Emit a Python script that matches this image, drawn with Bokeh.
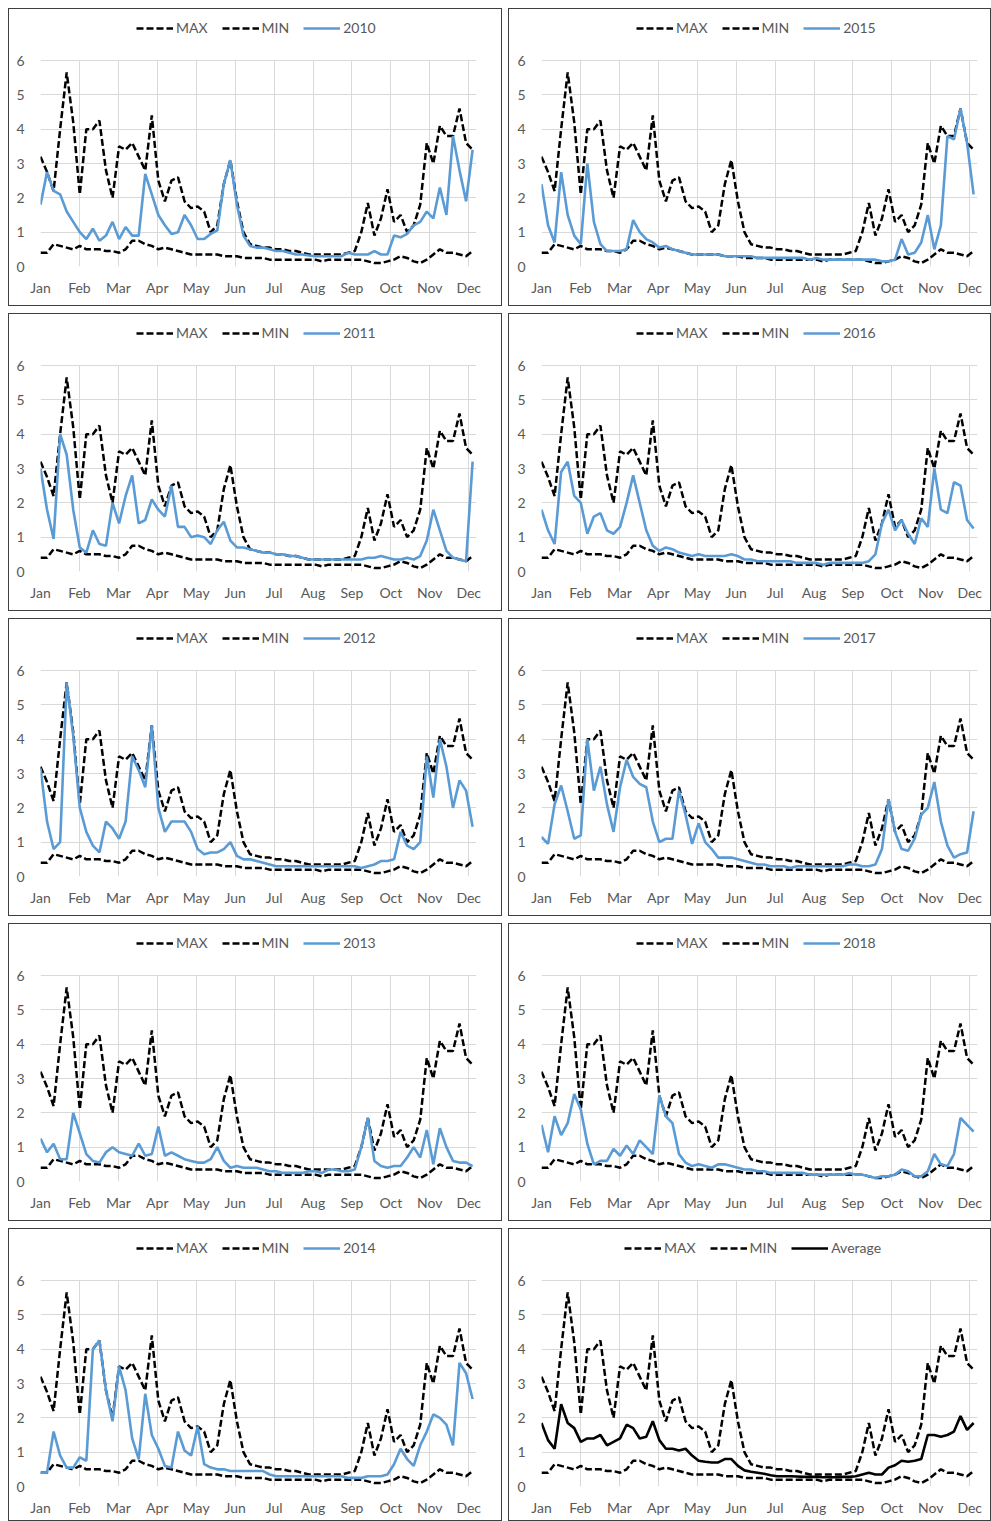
import numpy as np
from bokeh.plotting import figure
from bokeh.layouts import column, row
from bokeh.models import Range1d, FixedTicker, Legend, LegendItem
from bokeh.embed import file_html
from bokeh.resources import INLINE

# Month labels on the time axis (one tick per month start)
months = ["Jan", "Feb", "Mar", "Apr", "May", "Jun",
          "Jul", "Aug", "Sep", "Oct", "Nov", "Dec"]
y_ticks = [0, 1, 2, 3, 4, 5, 6]

# Envelope of all years (upper and lower bound), ~5-day steps from 1 Jan
max_vals = [3.2, 2.75, 2.2, 4.0, 5.65, 4.2, 2.1, 4.0, 4.0, 4.25,
            2.8, 2.0, 3.5, 3.4, 3.6, 3.2, 2.8, 4.4, 2.5, 1.9,
            2.5, 2.6, 1.9, 1.7, 1.75, 1.6, 1.0, 1.2, 2.4, 3.1,
            1.9, 1.0, 0.65, 0.6, 0.55, 0.55, 0.5, 0.5, 0.45, 0.45,
            0.4, 0.35, 0.35, 0.35, 0.35, 0.35, 0.35, 0.4, 0.45, 1.0,
            1.85, 0.9, 1.4, 2.25, 1.3, 1.5, 1.0, 1.2, 1.8, 3.6,
            3.0, 4.1, 3.8, 3.8, 4.6, 3.6, 3.4]
min_vals = [0.4, 0.4, 0.65, 0.6, 0.55, 0.5, 0.6, 0.5, 0.5, 0.5,
            0.45, 0.45, 0.4, 0.5, 0.75, 0.75, 0.65, 0.6, 0.5, 0.55,
            0.5, 0.45, 0.4, 0.35, 0.35, 0.35, 0.35, 0.35, 0.3, 0.3,
            0.3, 0.25, 0.25, 0.25, 0.25, 0.2, 0.2, 0.2, 0.2, 0.2,
            0.2, 0.2, 0.2, 0.15, 0.2, 0.2, 0.2, 0.2, 0.2, 0.2,
            0.15, 0.1, 0.1, 0.15, 0.2, 0.3, 0.25, 0.15, 0.1, 0.2,
            0.35, 0.5, 0.4, 0.4, 0.35, 0.3, 0.45]

y2010 = [1.8, 2.75, 2.2, 2.1, 1.6, 1.3, 1.0, 0.8, 1.1, 0.75,
         0.9, 1.3, 0.8, 1.15, 0.9, 0.9, 2.7, 2.1, 1.5, 1.2,
         0.95, 1.0, 1.5, 1.2, 0.8, 0.8, 0.95, 1.05, 2.4, 3.1,
         1.8, 0.9, 0.6, 0.55, 0.55, 0.5, 0.45, 0.45, 0.4, 0.35,
         0.35, 0.32, 0.3, 0.3, 0.3, 0.3, 0.3, 0.4, 0.35, 0.35,
         0.35, 0.45, 0.35, 0.35, 0.9, 0.85, 0.95, 1.2, 1.3, 1.6,
         1.4, 2.3, 1.5, 3.8, 2.8, 1.9, 3.4]
y2011 = [3.0, 1.8, 0.95, 4.0, 3.4, 1.8, 0.7, 0.55, 1.2, 0.8,
         0.75, 2.0, 1.4, 2.2, 2.8, 1.4, 1.5, 2.1, 1.8, 1.6,
         2.5, 1.3, 1.3, 1.0, 1.05, 1.0, 0.8, 1.2, 1.45, 0.9,
         0.7, 0.7, 0.65, 0.6, 0.55, 0.55, 0.5, 0.5, 0.45, 0.45,
         0.4, 0.35, 0.35, 0.35, 0.35, 0.35, 0.35, 0.35, 0.35, 0.35,
         0.4, 0.4, 0.45, 0.4, 0.35, 0.35, 0.4, 0.35, 0.45, 0.9,
         1.8, 1.2, 0.6, 0.4, 0.35, 0.3, 3.2]
y2012 = [3.15, 1.6, 0.8, 1.0, 5.65, 4.1, 2.0, 1.3, 0.9, 0.7,
         1.6, 1.4, 1.1, 1.6, 3.5, 3.1, 2.6, 4.4, 2.0, 1.3,
         1.6, 1.6, 1.6, 1.3, 0.8, 0.65, 0.7, 0.7, 0.8, 1.0,
         0.6, 0.5, 0.5, 0.45, 0.4, 0.35, 0.3, 0.3, 0.3, 0.3,
         0.3, 0.3, 0.3, 0.3, 0.3, 0.3, 0.3, 0.3, 0.3, 0.25,
         0.3, 0.35, 0.45, 0.45, 0.5, 1.3, 0.9, 0.8, 1.0, 3.5,
         2.3, 4.0, 3.2, 2.0, 2.8, 2.5, 1.45]
y2013 = [1.25, 0.85, 1.1, 0.65, 0.65, 2.0, 1.4, 0.8, 0.6, 0.55,
         0.85, 1.0, 0.85, 0.8, 0.75, 1.1, 0.75, 0.8, 1.6, 0.75,
         0.85, 0.75, 0.65, 0.6, 0.55, 0.55, 0.65, 1.0, 0.6, 0.4,
         0.45, 0.4, 0.4, 0.4, 0.35, 0.3, 0.3, 0.25, 0.25, 0.25,
         0.25, 0.3, 0.3, 0.25, 0.35, 0.35, 0.3, 0.3, 0.35, 1.0,
         1.85, 0.6, 0.45, 0.4, 0.45, 0.45, 0.7, 1.0, 0.7, 1.5,
         0.5, 1.55, 1.0, 0.6, 0.55, 0.55, 0.45]
y2014 = [0.4, 0.4, 1.6, 0.9, 0.55, 0.55, 0.85, 0.75, 4.0, 4.25,
         2.8, 1.9, 3.5, 2.8, 1.4, 0.8, 2.7, 1.5, 1.1, 0.6,
         0.55, 1.6, 1.05, 0.9, 1.75, 0.65, 0.55, 0.5, 0.5, 0.45,
         0.45, 0.45, 0.45, 0.45, 0.45, 0.35, 0.3, 0.3, 0.3, 0.3,
         0.3, 0.3, 0.3, 0.3, 0.3, 0.3, 0.3, 0.25, 0.25, 0.25,
         0.3, 0.3, 0.3, 0.35, 0.65, 1.1, 0.8, 0.6, 1.2, 1.6,
         2.1, 2.0, 1.8, 1.2, 3.6, 3.3, 2.55]
y2015 = [2.4, 1.2, 0.7, 2.75, 1.5, 0.9, 0.65, 3.0, 1.3, 0.65,
         0.45, 0.45, 0.45, 0.5, 1.35, 1.0, 0.8, 0.7, 0.55, 0.6,
         0.5, 0.45, 0.4, 0.35, 0.35, 0.35, 0.35, 0.35, 0.3, 0.3,
         0.3, 0.3, 0.3, 0.25, 0.25, 0.25, 0.25, 0.25, 0.25, 0.25,
         0.25, 0.2, 0.25, 0.2, 0.2, 0.2, 0.2, 0.2, 0.2, 0.2,
         0.2, 0.2, 0.15, 0.15, 0.2, 0.8, 0.35, 0.4, 0.7, 1.5,
         0.5, 1.2, 3.8, 3.7, 4.6, 3.6, 2.1]
y2016 = [1.8, 1.2, 0.8, 2.9, 3.2, 2.2, 2.0, 1.1, 1.6, 1.7,
         1.2, 1.1, 1.3, 2.0, 2.8, 2.0, 1.2, 0.75, 0.6, 0.7,
         0.65, 0.55, 0.5, 0.45, 0.5, 0.45, 0.45, 0.45, 0.45, 0.5,
         0.45, 0.35, 0.35, 0.3, 0.3, 0.3, 0.3, 0.3, 0.3, 0.25,
         0.25, 0.25, 0.25, 0.2, 0.25, 0.25, 0.25, 0.25, 0.25, 0.25,
         0.3, 0.5, 1.4, 1.8, 1.2, 1.5, 1.1, 0.8, 1.55, 1.3,
         3.0, 1.8, 1.7, 2.6, 2.5, 1.5, 1.25]
y2017 = [1.15, 0.95, 2.1, 2.65, 1.9, 1.1, 1.2, 4.0, 2.5, 3.2,
         2.1, 1.3, 2.6, 3.4, 2.9, 2.7, 2.6, 1.6, 1.0, 1.1,
         1.1, 2.5, 1.8, 0.95, 1.55, 1.0, 0.8, 0.55, 0.55, 0.55,
         0.5, 0.45, 0.4, 0.35, 0.35, 0.3, 0.3, 0.3, 0.25, 0.3,
         0.3, 0.3, 0.3, 0.3, 0.3, 0.3, 0.3, 0.35, 0.35, 0.3,
         0.3, 0.35, 0.8, 2.25, 1.3, 0.8, 0.75, 1.1, 1.8, 2.0,
         2.75, 1.6, 0.9, 0.55, 0.65, 0.7, 1.9]
y2018 = [1.65, 0.85, 1.9, 1.35, 1.7, 2.55, 2.1, 1.1, 0.5, 0.6,
         0.6, 0.95, 0.75, 1.05, 0.8, 1.2, 1.0, 0.8, 2.5, 1.9,
         1.7, 0.8, 0.55, 0.45, 0.5, 0.45, 0.4, 0.5, 0.5, 0.45,
         0.4, 0.35, 0.35, 0.3, 0.3, 0.25, 0.25, 0.25, 0.25, 0.25,
         0.25, 0.2, 0.2, 0.2, 0.2, 0.2, 0.2, 0.25, 0.2, 0.2,
         0.15, 0.1, 0.15, 0.15, 0.2, 0.35, 0.3, 0.15, 0.15, 0.3,
         0.8, 0.5, 0.45, 0.8, 1.85, 1.65, 1.45]
avg_vals = [1.85, 1.35, 1.1, 2.4, 1.85, 1.7, 1.3, 1.4, 1.4, 1.5,
            1.2, 1.3, 1.4, 1.8, 1.7, 1.4, 1.45, 1.9, 1.35, 1.1,
            1.1, 1.05, 1.1, 0.9, 0.75, 0.72, 0.7, 0.7, 0.8, 0.8,
            0.6, 0.47, 0.43, 0.4, 0.37, 0.33, 0.3, 0.3, 0.3, 0.29,
            0.28, 0.28, 0.28, 0.27, 0.27, 0.27, 0.28, 0.28, 0.3, 0.35,
            0.4, 0.35, 0.35, 0.55, 0.62, 0.75, 0.72, 0.75, 0.8, 1.5,
            1.5, 1.45, 1.5, 1.6, 2.05, 1.65, 1.85]

# time position of each sample, in months since 1 Jan
t = np.linspace(0, 11.1, len(max_vals))
month_ticks = list(range(len(months)))

GRID = "#d9d9d9"
TEXT = "#595959"
BLUE = "#5b9bd5"
FONT = "Lato"

# plot-area geometry: value 6 sits 51 px below the panel's top edge,
# and 6 units span 206 px; the strip above holds the legend
TOP_PX, SPAN_PX = 51, 206
FRAME_H = TOP_PX + SPAN_PX
Y_TOP = 6 * FRAME_H / SPAN_PX


def panel(label, vals, color, width, left, right, legend_x, height=298):
    p = figure(width=width, height=height,
               x_range=Range1d(0, 11.2), y_range=Range1d(0, Y_TOP),
               output_backend="svg", toolbar_location=None,
               min_border_left=left, min_border_right=right,
               min_border_top=0, min_border_bottom=height - FRAME_H,
               styles={"border": "1px solid #3f3f3f"})
    p.outline_line_color = None
    p.background_fill_color = "white"
    p.border_fill_color = "white"

    p.xaxis.ticker = FixedTicker(ticks=month_ticks)
    p.xaxis.major_label_overrides = {i: m for i, m in enumerate(months)}
    p.yaxis.ticker = FixedTicker(ticks=y_ticks)
    for ax in (p.xaxis[0], p.yaxis[0]):
        ax.axis_line_color = None
        ax.major_tick_line_color = None
        ax.minor_tick_line_color = None
        ax.major_tick_in = 0
        ax.major_tick_out = 0
        ax.major_label_text_color = TEXT
        ax.major_label_text_font = FONT
        ax.major_label_text_font_size = "14px"
    p.xaxis.major_label_standoff = 12
    p.yaxis.major_label_standoff = 16

    p.ygrid.grid_line_color = GRID
    xg = p.xgrid[0]
    if "cross_bounds" in xg.properties():
        xg.grid_line_color = GRID
        xg.cross_bounds = (0, 6)
    else:
        xg.visible = False
        p.segment(x0=month_ticks, y0=0, x1=month_ticks, y1=6,
                  line_color=GRID, line_width=1)

    r_max = p.line(t, max_vals, line_color="black", line_width=2.5,
                   line_dash="7 3")
    r_min = p.line(t, min_vals, line_color="black", line_width=2.5,
                   line_dash="7 3")
    r_val = p.line(t, vals, line_color=color, line_width=2.6)

    legend = Legend(items=[LegendItem(label="MAX", renderers=[r_max]),
                           LegendItem(label="MIN", renderers=[r_min]),
                           LegendItem(label=label, renderers=[r_val])],
                    location=(legend_x, FRAME_H - 27),
                    orientation="horizontal",
                    glyph_width=37, glyph_height=16, label_height=16,
                    label_standoff=3, spacing=14, padding=0, margin=0,
                    border_line_color=None, background_fill_alpha=0,
                    label_text_font=FONT, label_text_font_size="14px",
                    label_text_color=TEXT)
    p.add_layout(legend, "center")
    return p


left_series = [("2010", y2010), ("2011", y2011), ("2012", y2012),
               ("2013", y2013), ("2014", y2014)]
right_series = [("2015", y2015, BLUE), ("2016", y2016, BLUE),
                ("2017", y2017, BLUE), ("2018", y2018, BLUE),
                ("Average", avg_vals, "black")]

rows = []
for k in range(5):
    h = 293 if k == 4 else 298
    lname, lvals = left_series[k]
    rname, rvals, rcol = right_series[k]
    pl = panel(lname, lvals, BLUE, 494, 31, 27, 96, height=h)
    pr = panel(rname, rvals, rcol, 483, 32, 15,
               83 if rname == "Average" else 95, height=h)
    rows.append(row(pl, pr, spacing=6))

layout = column(*rows, spacing=7, margin=(8, 0, 0, 8))

open("out.html", "w").write(file_html(layout, INLINE))
